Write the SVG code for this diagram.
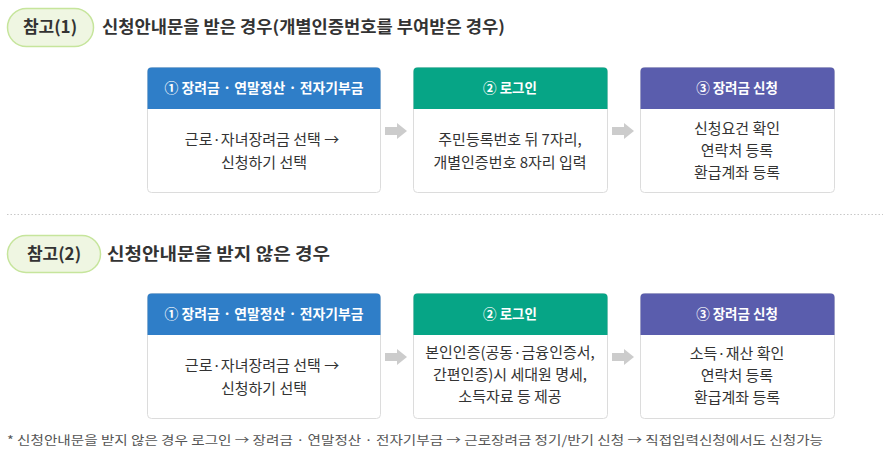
<svg xmlns="http://www.w3.org/2000/svg" width="883" height="460" viewBox="0 0 883 460">
<style>
text{font-family:"Noto Sans CJK KR","Noto Sans",sans-serif;}
.pill{fill:#eff6e2;stroke:#c6e59c;stroke-width:1.5;}
.pilltxt{font-size:17px;font-weight:bold;fill:#333;text-anchor:middle;}
.title{font-size:16.5px;font-weight:bold;fill:#333;}
.box{fill:#fff;stroke:#dcdcdc;stroke-width:1;}
.hdr{font-size:13.5px;font-weight:bold;fill:#fff;text-anchor:middle;}
.body{font-size:15px;fill:#333;text-anchor:middle;}
.blue{fill:#2f7ec8;}
.green{fill:#06a586;}
.purple{fill:#5a5dad;}
.arrow{fill:#cccccc;}
.note{font-size:12.5px;fill:#555;}
</style>
<defs>
<path id="arr" d="M0,-4 H12 V-8 L22,0 L12,8 V4 H0 Z"/>
</defs>

<g id="section1-heading">
<rect class="pill" x="7.5" y="8.5" width="86" height="38" rx="19"/>
<text class="pilltxt" x="50" y="33">참고(1)</text>
<text class="title" x="102" y="33" textLength="403" lengthAdjust="spacingAndGlyphs">신청안내문을 받은 경우(개별인증번호를 부여받은 경우)</text>
</g>

<g id="s1-step1">
<rect class="box" x="147.5" y="67.5" width="233" height="125" rx="4"/>
<path class="blue" d="M151.5,67.5 H376.5 A4,4 0 0 1 380.5,71.5 V109 H147.5 V71.5 A4,4 0 0 1 151.5,67.5 Z"/>
<text class="hdr" x="264" y="93" textLength="199" lengthAdjust="spacingAndGlyphs">① 장려금 · 연말정산 · 전자기부금</text>
<text class="body" x="262" y="145">근로·자녀장려금 선택 →</text>
<text class="body" x="264" y="168">신청하기 선택</text>
</g>

<g id="s1-step2">
<rect class="box" x="413.5" y="67.5" width="194" height="125" rx="4"/>
<path class="green" d="M417.5,67.5 H603.5 A4,4 0 0 1 607.5,71.5 V109 H413.5 V71.5 A4,4 0 0 1 417.5,67.5 Z"/>
<text class="hdr" x="510" y="93">② 로그인</text>
<text class="body" x="510" y="145">주민등록번호 뒤 7자리,</text>
<text class="body" x="510" y="168">개별인증번호 8자리 입력</text>
</g>

<g id="s1-step3">
<rect class="box" x="640.5" y="67.5" width="194" height="125" rx="4"/>
<path class="purple" d="M644.5,67.5 H830.5 A4,4 0 0 1 834.5,71.5 V109 H640.5 V71.5 A4,4 0 0 1 644.5,67.5 Z"/>
<text class="hdr" x="737" y="93">③ 장려금 신청</text>
<text class="body" x="737" y="134">신청요건 확인</text>
<text class="body" x="737" y="156">연락처 등록</text>
<text class="body" x="737" y="178">환급계좌 등록</text>
</g>

<line x1="7" y1="214.5" x2="883" y2="214.5" stroke="#c8c8c8" stroke-width="1" stroke-dasharray="1.5,2"/>

<g id="section2-heading">
<rect class="pill" x="7.5" y="235.5" width="93" height="37" rx="18.5"/>
<text class="pilltxt" x="54" y="260">참고(2)</text>
<text class="title" x="107" y="260" textLength="223" lengthAdjust="spacingAndGlyphs">신청안내문을 받지 않은 경우</text>
</g>

<g id="s2-step1">
<rect class="box" x="147.5" y="293.5" width="233" height="125" rx="4"/>
<path class="blue" d="M151.5,293.5 H376.5 A4,4 0 0 1 380.5,297.5 V335 H147.5 V297.5 A4,4 0 0 1 151.5,293.5 Z"/>
<text class="hdr" x="264" y="319" textLength="199" lengthAdjust="spacingAndGlyphs">① 장려금 · 연말정산 · 전자기부금</text>
<text class="body" x="262" y="371">근로·자녀장려금 선택 →</text>
<text class="body" x="264" y="394">신청하기 선택</text>
</g>

<g id="s2-step2">
<rect class="box" x="413.5" y="293.5" width="194" height="125" rx="4"/>
<path class="green" d="M417.5,293.5 H603.5 A4,4 0 0 1 607.5,297.5 V335 H413.5 V297.5 A4,4 0 0 1 417.5,293.5 Z"/>
<text class="hdr" x="510" y="319">② 로그인</text>
<text class="body" x="510" y="358">본인인증(공동·금융인증서,</text>
<text class="body" x="510" y="380">간편인증)시 세대원 명세,</text>
<text class="body" x="510" y="402">소득자료 등 제공</text>
</g>

<g id="s2-step3">
<rect class="box" x="640.5" y="293.5" width="194" height="125" rx="4"/>
<path class="purple" d="M644.5,293.5 H830.5 A4,4 0 0 1 834.5,297.5 V335 H640.5 V297.5 A4,4 0 0 1 644.5,293.5 Z"/>
<text class="hdr" x="737" y="319">③ 장려금 신청</text>
<text class="body" x="737" y="359">소득·재산 확인</text>
<text class="body" x="737" y="381">연락처 등록</text>
<text class="body" x="737" y="403">환급계좌 등록</text>
</g>

<g id="connectors">
<use href="#arr" class="arrow" x="385" y="131"/>
<use href="#arr" class="arrow" x="612" y="131"/>
<use href="#arr" class="arrow" x="385" y="357"/>
<use href="#arr" class="arrow" x="612" y="357"/>
</g>

<text class="note" x="7" y="445" textLength="816" lengthAdjust="spacingAndGlyphs">* 신청안내문을 받지 않은 경우 로그인 → 장려금 · 연말정산 · 전자기부금 → 근로장려금 정기/반기 신청 → 직접입력신청에서도 신청가능</text>
</svg>
